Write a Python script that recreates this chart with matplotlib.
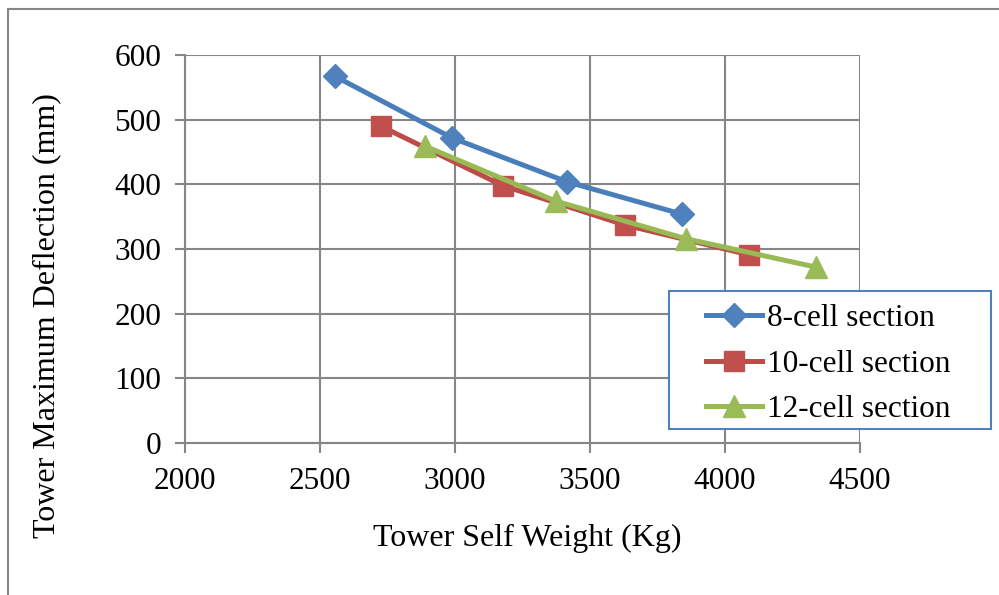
import matplotlib
matplotlib.use('Agg')
import matplotlib.pyplot as plt
from matplotlib.lines import Line2D
from matplotlib.patches import Rectangle

# data
w8 = [2556, 2988, 3414, 3840]
d8 = [567, 472, 404, 354]
w10 = [2725, 3177, 3630, 4089]
d10 = [490, 398, 337, 291]
w12 = [2889, 3374, 3854, 4337]
d12 = [459, 374, 316, 272]
series_names = ['8-cell section', '10-cell section', '12-cell section']

plt.rcParams['font.family'] = ['Liberation Serif', 'DejaVu Serif']
fs = 22.5
grid_col = '#868686'

fig = plt.figure(figsize=(9.99, 5.95), dpi=100)
W, H = 999, 595
ax = fig.add_axes([185 / W, (H - 443) / H, (860 - 185) / W, (443 - 55) / H])

ax.plot(w8, d8, color='#4A7EBB', lw=3.6, marker='D', ms=12,
        mfc='#4F81BD', mec='#4F81BD', label=series_names[0], zorder=3)
ax.plot(w10, d10, color='#BE4B48', lw=3.6, marker='s', ms=14.5,
        mfc='#C0504D', mec='#C0504D', label=series_names[1], zorder=3)
ax.plot(w12, d12, color='#98B954', lw=3.6, marker='^', ms=16,
        mfc='#9BBB59', mec='#9BBB59', label=series_names[2], zorder=4)

ax.set_xlim(2000, 4500)
ax.set_ylim(0, 600)
ax.set_xticks(range(2000, 4501, 500))
ax.set_yticks(range(0, 601, 100))
ax.grid(True, color=grid_col, lw=1.5)
ax.set_axisbelow(True)
for s in ['top', 'right']:
    ax.spines[s].set_visible(False)
for s in ['left', 'bottom']:
    ax.spines[s].set_color(grid_col)
    ax.spines[s].set_linewidth(1.5)
ax.tick_params(axis='both', direction='out', length=7, width=1.5,
               color=grid_col, labelsize=fs, pad=10)

# axis titles placed as in the reference
fig.text(527 / W, 1 - 538 / H, 'Tower Self Weight (Kg)', fontsize=23,
         ha='center', va='center')
fig.text(47 / W, 1 - 316 / H, 'Tower Maximum Deflection (mm)', fontsize=23,
         ha='center', va='center', rotation=90)

# legend box (frame drawn separately so the entries sit centred inside)
fig.add_artist(Rectangle((669 / W, 1 - 429 / H), (991 - 669) / W, (429 - 291) / H,
                         transform=fig.transFigure, facecolor='white',
                         edgecolor='#4F81BD', lw=1.5, zorder=5))
handles, labels = ax.get_legend_handles_labels()
leg = fig.legend(handles, labels, loc='center', bbox_to_anchor=(828 / W, 1 - 364 / H),
                 bbox_transform=fig.transFigure, fontsize=fs, frameon=False,
                 handlelength=1.8, handletextpad=0.15, borderpad=0.2,
                 labelspacing=0.54, borderaxespad=0)
leg.set_zorder(6)

# outer chart border (only top and left visible in the crop)
fig.add_artist(Line2D([8 / W, 8 / W], [0, 1 - 9 / H], color=grid_col, lw=1.5,
                      transform=fig.transFigure))
fig.add_artist(Line2D([8 / W, 1], [1 - 9 / H, 1 - 9 / H], color=grid_col, lw=1.5,
                      transform=fig.transFigure))

fig.savefig('out.png', dpi=100)
